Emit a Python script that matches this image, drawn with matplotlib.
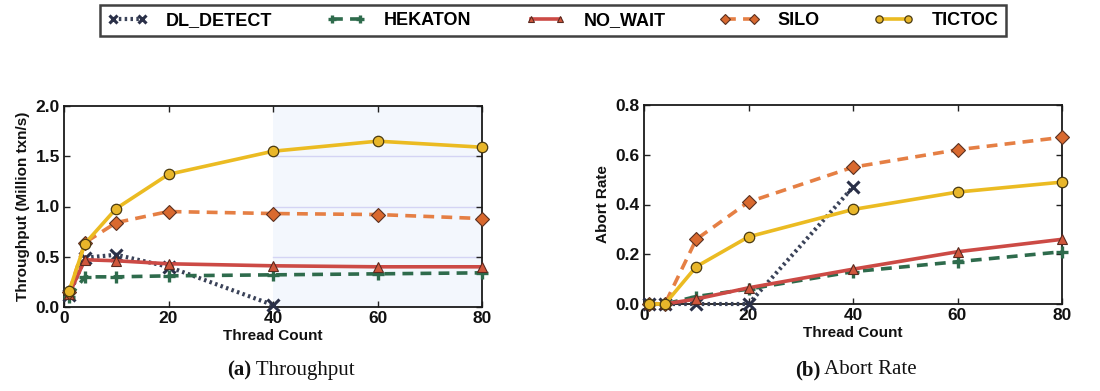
import matplotlib
matplotlib.use("Agg")
import matplotlib.pyplot as plt
from matplotlib.lines import Line2D

plt.rcParams['font.family'] = ['Liberation Sans', 'DejaVu Sans']

threads = [1, 4, 10, 20, 40, 60, 80]
dl_threads = [1, 4, 10, 20, 40]

schemes = ["DL_DETECT", "HEKATON", "NO_WAIT", "SILO", "TICTOC"]

# Throughput (Million txn/s)
tput_dl_detect = [0.12, 0.49, 0.52, 0.40, 0.02]
tput_hekaton = [0.10, 0.30, 0.30, 0.31, 0.32, 0.33, 0.34]
tput_no_wait = [0.13, 0.47, 0.46, 0.43, 0.41, 0.40, 0.40]
tput_silo = [0.15, 0.64, 0.84, 0.95, 0.93, 0.92, 0.88]
tput_tictoc = [0.16, 0.63, 0.98, 1.32, 1.55, 1.65, 1.59]

# Abort rate
abort_dl_detect = [0.0, 0.0, 0.0, 0.0, 0.47]
abort_hekaton = [0.0, 0.0, 0.03, 0.06, 0.13, 0.17, 0.21]
abort_no_wait = [0.0, 0.0, 0.02, 0.065, 0.14, 0.21, 0.26]
abort_silo = [0.0, 0.0, 0.26, 0.41, 0.55, 0.62, 0.67]
abort_tictoc = [0.0, 0.0, 0.15, 0.27, 0.38, 0.45, 0.49]

styles = {
    "DL_DETECT": dict(color="#3a4258", ls=(0, (0.6, 0.8)), lw=3.0, marker="x",
                      ms=8, mew=2.2, mfc="#2a3048", mec="#2a3048"),
    "HEKATON": dict(color="#2e6b4c", ls=(0, (3, 2)), lw=2.6, marker="+",
                    ms=9, mew=2.4, mfc="#2e6b4c", mec="#2e6b4c"),
    "NO_WAIT": dict(color="#cc4a45", ls="-", lw=2.6, marker="^",
                    ms=7, mew=0.8, mfc="#d0573c", mec="#5a2a20"),
    "SILO": dict(color="#e57f44", ls=(0, (3, 2)), lw=2.6, marker="D",
                 ms=7.5, mew=0.8, mfc="#d9692f", mec="#5a3020"),
    "TICTOC": dict(color="#ebbb22", ls="-", lw=2.6, marker="o",
                   ms=7.5, mew=0.9, mfc="#e8b62a", mec="#4a3a10"),
}

fig = plt.figure(figsize=(11.0, 3.91), dpi=100)
W, H = 1100.0, 391.0
ax1 = fig.add_axes([64 / W, 1 - 307 / H, (482 - 64) / W, (307 - 106) / H])
ax2 = fig.add_axes([644 / W, 1 - 304 / H, (1062 - 644) / W, (304 - 105) / H])

# faint tinted band on the right part of the throughput panel
ax1.axvspan(40, 80, color="#f3f7fd", zorder=0, lw=0)
for yv in (0.5, 1.0, 1.5):
    ax1.plot([40, 80], [yv, yv], color="#d4d4f4", lw=1.0, zorder=0.5)

tput = {"DL_DETECT": (dl_threads, tput_dl_detect),
        "HEKATON": (threads, tput_hekaton),
        "NO_WAIT": (threads, tput_no_wait),
        "SILO": (threads, tput_silo),
        "TICTOC": (threads, tput_tictoc)}
abort = {"DL_DETECT": (dl_threads, abort_dl_detect),
         "HEKATON": (threads, abort_hekaton),
         "NO_WAIT": (threads, abort_no_wait),
         "SILO": (threads, abort_silo),
         "TICTOC": (threads, abort_tictoc)}

for ax, data in ((ax1, tput), (ax2, abort)):
    for name in schemes:
        xs, ys = data[name]
        ax.plot(xs, ys, clip_on=False, zorder=3, **styles[name])

ax1.set_xlim(0, 80)
ax1.set_ylim(0, 2.0)
ax1.set_yticks([0.0, 0.5, 1.0, 1.5, 2.0])
ax2.set_xlim(0, 80)
ax2.set_ylim(0, 0.8)
ax2.set_yticks([0.0, 0.2, 0.4, 0.6, 0.8])

for ax in (ax1, ax2):
    ax.set_xticks([0, 20, 40, 60, 80])
    ax.tick_params(direction="in", top=True, right=True, length=4, width=1,
                   labelsize=12.5, pad=3, colors="#222222")
    for lab in ax.get_xticklabels() + ax.get_yticklabels():
        lab.set_fontweight("bold")
        lab.set_color("#111111")
    for s in ax.spines.values():
        s.set_linewidth(1.3)
        s.set_color("#1a1a1a")
    ax.set_xlabel("Thread Count", fontsize=11, fontweight="bold", labelpad=2,
                  color="#111111")

ax1.set_ylabel("Throughput (Million txn/s)", fontsize=11, fontweight="bold",
               labelpad=4, color="#111111")
ax2.set_ylabel("Abort Rate", fontsize=11, fontweight="bold", labelpad=4,
               color="#111111")

# sub-captions: bold tag followed by regular title
r = fig.canvas.get_renderer()
for xc, tag, title in ((290, "(a)", " Throughput"), (855, "(b)", " Abort Rate")):
    t = fig.text(xc / W, 1 - 370 / H, tag + title, family="Liberation Serif",
                 fontsize=15, ha="center", va="center", color="#111111")
    bb = t.get_window_extent(r)
    t.remove()
    fig.text(bb.x0 / W, 1 - 370 / H, tag, family="Liberation Serif",
             fontweight="bold", fontsize=15, ha="left", va="center", color="#111111")
    tb = fig.text(0, 0, tag, family="Liberation Serif", fontweight="bold", fontsize=15)
    wb = tb.get_window_extent(r).width
    tb.remove()
    fig.text((bb.x0 + wb) / W, 1 - 370 / H, title, family="Liberation Serif",
             fontsize=15, ha="left", va="center", color="#111111")

handles = [Line2D([], [], **styles[n]) for n in schemes]
leg = fig.legend(handles, schemes, loc="center", bbox_to_anchor=(553 / W, 1 - 20.5 / H),
                 ncol=5, frameon=True, fancybox=False, edgecolor="#111111",
                 prop=dict(family="Liberation Sans", size=13, weight="bold"),
                 handlelength=2.2, columnspacing=3.0, handletextpad=1.0,
                 borderpad=0.4, markerscale=0.7, numpoints=2)
leg.get_frame().set_linewidth(1.8)

fig.savefig("out.png", dpi=100, facecolor="white")
